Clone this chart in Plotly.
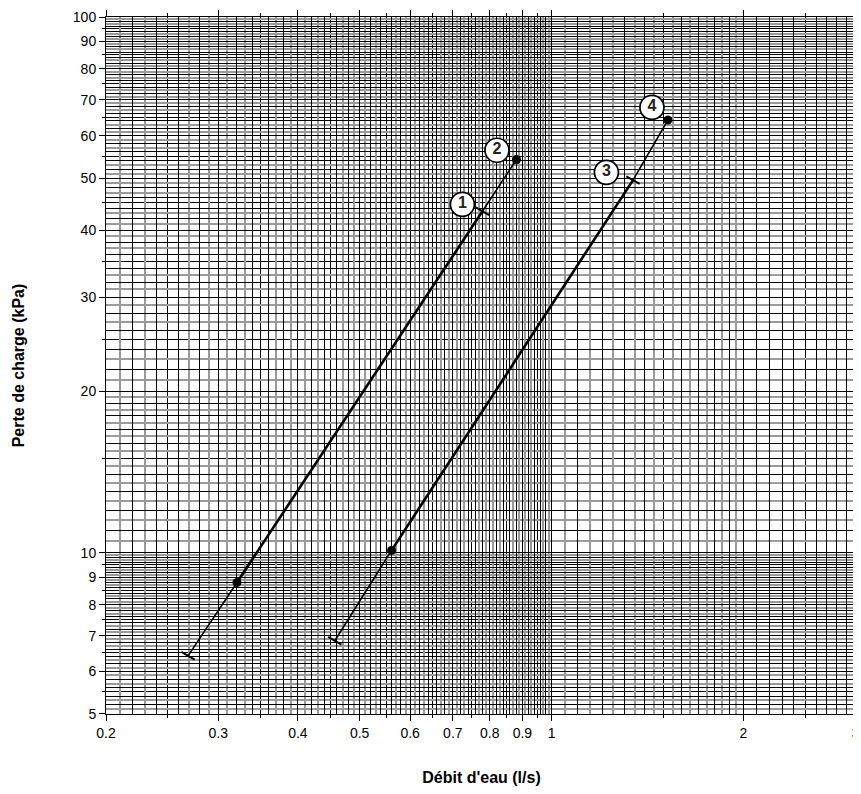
import numpy as np
import plotly.graph_objects as go

# ---------------- data ----------------
flow_a = [0.269, 0.321, 0.779, 0.881]      # l/s, left curve (labels 1, 2)
loss_a = [6.42, 8.80, 43.4, 54.2]          # kPa
flow_b = [0.457, 0.561, 1.342, 1.522]      # l/s, right curve (labels 3, 4)
loss_b = [6.85, 10.1, 49.6, 64.2]          # kPa

label_text = ["1", "2", "3", "4"]
label_flow = [0.7246, 0.821, 1.219, 1.437]
label_loss = [44.7, 56.4, 51.3, 67.8]

x_tick_vals = [0.2, 0.3, 0.4, 0.5, 0.6, 0.7, 0.8, 0.9, 1, 2, 3]
x_tick_text = ["0.2", "0.3", "0.4", "0.5", "0.6", "0.7", "0.8", "0.9", "1", "2", "3"]
y_tick_vals = [5, 6, 7, 8, 9, 10, 20, 30, 40, 50, 60, 70, 80, 90, 100]
y_tick_text = [str(v) for v in y_tick_vals]

x_range = (0.2, 3)
y_range = (5, 100)


def seq(a, b, s):
    n = int(round((b - a) / s))
    return [round(a + i * s, 4) for i in range(n + 1)]


def minus(a, b):
    sb = set(round(v, 4) for v in b)
    return [v for v in a if round(v, 4) not in sb]


# ---------------- graph-paper grid ----------------
x_fine = seq(0.2, 1, 0.01) + seq(1.05, 2, 0.05) + seq(2.1, 3, 0.1)
x_minor_ticks = minus(seq(0.25, 0.95, 0.05) + [1.5, 2.5], x_tick_vals)
x_black_extra = minus(seq(0.22, 0.98, 0.02) + seq(1.1, 2.9, 0.1),
                      x_tick_vals + x_minor_ticks)
x_gray = minus(x_fine, x_tick_vals + x_minor_ticks + x_black_extra)

y_fine = seq(5, 10, 0.1) + seq(10.5, 20, 0.5) + seq(21, 100, 1)
y_minor_ticks = minus(seq(5.5, 9.5, 0.5) + seq(15, 95, 10), y_tick_vals)
y_black_extra = minus(seq(5.2, 9.8, 0.2) + seq(11, 19, 1) + seq(22, 98, 2),
                      y_tick_vals + y_minor_ticks)
y_gray = minus(y_fine, y_tick_vals + y_minor_ticks + y_black_extra)

GRAY = "#9a9a9a"
FONT = "Arial, Liberation Sans, sans-serif"
EPS = 1e-5
xr = [np.log10(x_range[0]) - EPS, np.log10(x_range[1]) + 2e-3]
yr = [np.log10(y_range[0]) - EPS, np.log10(y_range[1]) + EPS]

fig = go.Figure()

# invisible anchor trace so the overlaid grid axes get drawn
fig.add_trace(go.Scatter(x=[flow_a[0]], y=[loss_a[0]], xaxis="x2", yaxis="y2",
                         mode="markers", marker=dict(opacity=0),
                         hoverinfo="skip"))

thin = 1.6
thick = 2.6
cap = dict(symbol="line-ew", size=11, angle=30, line=dict(width=2, color="black"))

for fx, fy in ((flow_a, loss_a), (flow_b, loss_b)):
    fig.add_trace(go.Scatter(x=fx[0:2], y=fy[0:2], mode="lines",
                             line=dict(color="black", width=thin), hoverinfo="skip"))
    fig.add_trace(go.Scatter(x=fx[2:4], y=fy[2:4], mode="lines",
                             line=dict(color="black", width=thin), hoverinfo="skip"))
    fig.add_trace(go.Scatter(x=fx[1:3], y=fy[1:3], mode="lines",
                             line=dict(color="black", width=thick), hoverinfo="skip"))
    fig.add_trace(go.Scatter(x=[fx[0], fx[2]], y=[fy[0], fy[2]], mode="markers",
                             marker=cap, hoverinfo="skip"))
    fig.add_trace(go.Scatter(x=[fx[1], fx[3]], y=[fy[1], fy[3]], mode="markers",
                             marker=dict(symbol="circle", size=9, color="black"),
                             hoverinfo="skip"))

fig.add_trace(go.Scatter(
    x=label_flow, y=label_loss, mode="markers+text", text=label_text,
    textposition="middle center",
    textfont=dict(family=FONT, size=16, color="#222", weight="bold"),
    marker=dict(symbol="circle", size=24, color="white",
                line=dict(color="black", width=1.7)),
    hoverinfo="skip"))

common = dict(type="log", showline=True, linecolor="black", linewidth=1,
              zeroline=False, automargin=False, ticklabeloverflow="allow")

# the page body adds an 8px offset; the figure is sized to compensate
fig.update_layout(
    width=853, height=778,
    margin=dict(l=98, r=4, t=9, b=72, autoexpand=False),
    paper_bgcolor="white", plot_bgcolor="white",
    showlegend=False,
    font=dict(family=FONT, size=14, color="black"),
    xaxis=dict(
        **common, range=xr,
        tickmode="array", tickvals=x_tick_vals, ticktext=x_tick_text,
        ticks="outside", ticklen=6, tickcolor="black", tickwidth=1,
        mirror="allticks",
        showgrid=True, gridcolor="black", gridwidth=1,
        minor=dict(tickmode="array", tickvals=x_minor_ticks, ticks="outside",
                   ticklen=3, tickcolor="black", showgrid=True,
                   gridcolor="black", gridwidth=1),
        title=dict(text="Débit d'eau (l/s)", standoff=36,
                   font=dict(family=FONT, size=16, weight="bold")),
    ),
    yaxis=dict(
        **common, range=yr,
        tickmode="array", tickvals=y_tick_vals, ticktext=y_tick_text,
        ticks="outside", ticklen=6, tickcolor="black", tickwidth=1,
        mirror="allticks",
        showgrid=True, gridcolor="black", gridwidth=1,
        minor=dict(tickmode="array", tickvals=y_minor_ticks, ticks="outside",
                   ticklen=3, tickcolor="black", showgrid=True,
                   gridcolor="black", gridwidth=1),
        title=dict(text="Perte de charge (kPa)", standoff=44,
                   font=dict(family=FONT, size=16, weight="bold")),
    ),
    xaxis2=dict(
        type="log", overlaying="x", anchor="y2", side="bottom",
        range=xr, automargin=False,
        tickmode="array", tickvals=x_black_extra, ticks="",
        showticklabels=False, showline=False, zeroline=False,
        showgrid=True, gridcolor="black", gridwidth=1,
        minor=dict(tickmode="array", tickvals=x_gray, ticks="",
                   showgrid=True, gridcolor=GRAY, gridwidth=2),
    ),
    yaxis2=dict(
        type="log", overlaying="y", anchor="x2", side="left",
        range=yr, automargin=False,
        tickmode="array", tickvals=y_black_extra, ticks="",
        showticklabels=False, showline=False, zeroline=False,
        showgrid=True, gridcolor="black", gridwidth=1,
        minor=dict(tickmode="array", tickvals=y_gray, ticks="",
                   showgrid=True, gridcolor=GRAY, gridwidth=2),
    ),
)

fig.write_html("out.html")
